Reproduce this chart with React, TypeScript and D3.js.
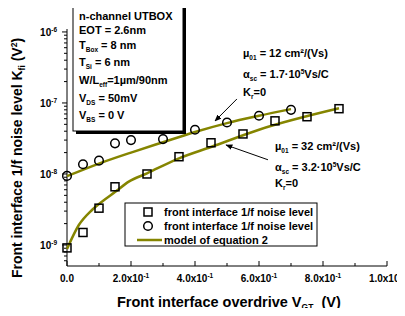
import React from "react";
import * as d3 from "d3";

// measured squares (front interface 1/f noise level, low mobility device)
const sqX = [0, 0.05, 0.1, 0.15, 0.25, 0.35, 0.45, 0.55, 0.65, 0.75, 0.85];
const sqY = [9.1e-10, 1.5e-9, 3.3e-9, 6.6e-9, 1.0e-8, 1.75e-8, 2.75e-8, 3.66e-8, 5.6e-8, 6.4e-8, 8.3e-8];
// measured circles
const ciX = [0, 0.05, 0.1, 0.15, 0.2, 0.3, 0.4, 0.5, 0.6, 0.7];
const ciY = [9.4e-9, 1.37e-8, 1.54e-8, 2.7e-8, 3.0e-8, 3.1e-8, 4.2e-8, 5.3e-8, 6.6e-8, 8.0e-8];
// model of equation 2
const modSqX = [0, 0.037, 0.078, 0.109, 0.151, 0.193, 0.25, 0.35, 0.45, 0.6, 0.85];
const modSqY = [8.8e-10, 1.91e-9, 3.11e-9, 4.07e-9, 5.6e-9, 7.8e-9, 1.02e-8, 1.66e-8, 2.4e-8, 4.2e-8, 8.4e-8];
const modCiX = [0, 0.1, 0.2, 0.3, 0.4, 0.5, 0.6, 0.7];
const modCiY = [9.3e-9, 1.4e-8, 2.0e-8, 2.8e-8, 3.9e-8, 5.2e-8, 6.6e-8, 8.2e-8];

const xTicks = [0, 0.2, 0.4, 0.6, 0.8, 1.0];
const xTickLabels = ["0.0", "2.0x10", "4.0x10", "6.0x10", "8.0x10", "1.0x10"];
const xTickExp = ["", "-1", "-1", "-1", "-1", "0"];
const yDecades = [-9, -8, -7, -6];

const OLIVE = "#858500";
const FONT = "'Liberation Sans', Arial, sans-serif";

export default function App() {
  const x = d3.scaleLinear().domain([0, 1]).range([67, 387]);
  const y = d3.scaleLog().domain([5.06e-10, 1.1e-6]).range([266, 29]);

  const line = d3
    .line<[number, number]>()
    .x((d) => x(d[0]))
    .y((d) => y(d[1]))
    .curve(d3.curveMonotoneX);

  const sqPts = sqX.map((v, i) => [v, sqY[i]] as [number, number]);
  const ciPts = ciX.map((v, i) => [v, ciY[i]] as [number, number]);
  const mSq = modSqX.map((v, i) => [v, modSqY[i]] as [number, number]);
  const mCi = modCiX.map((v, i) => [v, modCiY[i]] as [number, number]);

  const minorX = d3.range(0.1, 1.0, 0.2);
  const minorY: number[] = [];
  for (let e = -10; e <= -6; e++) {
    for (let m = 2; m <= 9; m++) {
      const v = m * Math.pow(10, e);
      if (v >= 5.06e-10 && v <= 1.1e-6) minorY.push(v);
    }
  }

  const arrows = [
    { x1: 0.531, y1: Math.pow(10, -6.944), x2: 0.4625, y2: Math.pow(10, -7.254) },
    { x1: 0.628, y1: Math.pow(10, -7.8), x2: 0.497, y2: Math.pow(10, -7.592) },
  ];

  const inset = [
    { t: "n-channel UTBOX", s: "", r: "" },
    { t: "EOT = 2.6nm", s: "", r: "" },
    { t: "T", s: "Box", r: " = 8 nm" },
    { t: "T", s: "Si", r: " = 6 nm" },
    { t: "W/L", s: "eff", r: "=1µm/90nm" },
    { t: "V", s: "DS", r: " = 50mV" },
    { t: "V", s: "BS", r: " = 0 V" },
  ];
  const insetY = [20, 34, 49, 66, 84, 102, 119];

  return (
    <div style={{ margin: -8 }}>
      <svg width={405} height={316} style={{ display: "block", background: "#fff" }} fontFamily={FONT} fontWeight="bold">
        <defs>
          <marker id="ah" viewBox="0 0 10 10" refX="9" refY="5" markerWidth="7" markerHeight="7" orient="auto">
            <path d="M0,1 L10,5 L0,9 z" fill="#000" />
          </marker>
        </defs>

        {/* axes */}
        <line x1={x(0)} x2={x(0)} y1={y.range()[0]} y2={y.range()[1]} stroke="#000" strokeWidth={1} />
        <line x1={x(0)} x2={x(1)} y1={266} y2={266} stroke="#000" strokeWidth={1} />
        {xTicks.map((t, i) => (
          <g key={"xt" + i}>
            <line x1={x(t)} x2={x(t)} y1={266} y2={261} stroke="#000" />
            <text x={i === xTicks.length - 1 ? x(t) - 1 : x(t)} y={282} fontSize={10} textAnchor="middle">
              {xTickLabels[i]}
              {xTickExp[i] && (
                <tspan dy={-4} fontSize={6.5}>
                  {xTickExp[i]}
                </tspan>
              )}
            </text>
          </g>
        ))}
        {minorX.map((t, i) => (
          <line key={"xm" + i} x1={x(t)} x2={x(t)} y1={266} y2={263} stroke="#000" />
        ))}
        {yDecades.map((e) => (
          <g key={"yt" + e}>
            <line x1={x(0)} x2={x(0) - 5} y1={y(Math.pow(10, e))} y2={y(Math.pow(10, e))} stroke="#000" />
            <text x={57} y={y(Math.pow(10, e)) + 4} fontSize={10} textAnchor="end">
              10
              <tspan dy={-4} fontSize={6.5}>
                {String(e)}
              </tspan>
            </text>
          </g>
        ))}
        {minorY.map((v, i) => (
          <line key={"ym" + i} x1={x(0)} x2={x(0) - 3} y1={y(v)} y2={y(v)} stroke="#000" />
        ))}

        {/* model curves */}
        <path d={line(mSq) || ""} fill="none" stroke={OLIVE} strokeWidth={2.5} />
        <path d={line(mCi) || ""} fill="none" stroke={OLIVE} strokeWidth={2.5} />

        {/* markers */}
        {sqPts.map((d, i) => (
          <rect key={"s" + i} x={x(d[0]) - 4} y={y(d[1]) - 4} width={8} height={8} fill="none" stroke="#000" strokeWidth={1.5} />
        ))}
        {ciPts.map((d, i) => (
          <circle key={"c" + i} cx={x(d[0])} cy={y(d[1])} r={4.3} fill="none" stroke="#000" strokeWidth={1.5} />
        ))}

        {/* arrows */}
        {arrows.map((a, i) => (
          <line key={"a" + i} x1={x(a.x1)} y1={y(a.y1)} x2={x(a.x2)} y2={y(a.y2)} stroke="#000" strokeWidth={1} markerEnd="url(#ah)" />
        ))}

        {/* annotations */}
        <g fontSize={11}>
          <text x={243} y={57}>
            µ<tspan dy={3} fontSize={6.5}>01</tspan>
            <tspan dy={-3}> = 12 cm²/(Vs)</tspan>
          </text>
          <text x={243} y={78}>
            α<tspan dy={3} fontSize={6.5}>sc</tspan>
            <tspan dy={-3}> = 1.7·10</tspan>
            <tspan dy={-4} fontSize={6.5}>5</tspan>
            <tspan dy={4}>Vs/C</tspan>
          </text>
          <text x={243} y={96}>
            K<tspan dy={3} fontSize={6.5}>r</tspan>
            <tspan dy={-3}>=0</tspan>
          </text>
          <text x={275} y={150}>
            µ<tspan dy={3} fontSize={6.5}>01</tspan>
            <tspan dy={-3}> = 32 cm²/(Vs)</tspan>
          </text>
          <text x={275} y={171}>
            α<tspan dy={3} fontSize={6.5}>sc</tspan>
            <tspan dy={-3}> = 3.2·10</tspan>
            <tspan dy={-4} fontSize={6.5}>5</tspan>
            <tspan dy={4}>Vs/C</tspan>
          </text>
          <text x={275} y={187}>
            K<tspan dy={3} fontSize={6.5}>r</tspan>
            <tspan dy={-3}>=0</tspan>
          </text>
        </g>

        {/* inset box */}
        <rect x={76} y={8} width={110} height={126} fill="#000" />
        <rect x={73} y={5} width={110} height={126} fill="#fff" stroke="#000" strokeWidth={1} />
        <g fontSize={11}>
          {inset.map((l, i) => (
            <text key={"in" + i} x={79} y={insetY[i]}>
              {l.t}
              {l.s && (
                <tspan dy={3} fontSize={6.5}>
                  {l.s}
                </tspan>
              )}
              {l.s && <tspan dy={-3}>{l.r}</tspan>}
            </text>
          ))}
        </g>

        {/* legend */}
        <rect x={125} y={203} width={192} height={43} fill="#fff" stroke="#000" strokeWidth={1} />
        <rect x={144} y={208} width={8} height={8} fill="none" stroke="#000" strokeWidth={1.5} />
        <circle cx={148} cy={226} r={4.3} fill="none" stroke="#000" strokeWidth={1.5} />
        <line x1={137} x2={162} y1={240} y2={240} stroke={OLIVE} strokeWidth={2.5} />
        <g fontSize={11}>
          <text x={164} y={216}>front interface 1/f noise level</text>
          <text x={164} y={230}>front interface 1/f noise level</text>
          <text x={164} y={244}>model of equation 2</text>
        </g>

        {/* axis titles */}
        <text x={117} y={307} fontSize={14.5}>
          Front interface overdrive V<tspan dy={3} fontSize={8.5}>GT</tspan>
          <tspan dy={-3}>{"\u00a0\u00a0(V)"}</tspan>
        </text>
        <text transform="translate(22,158) rotate(-90)" fontSize={14} textAnchor="middle">
          Front interface 1/f noise level K<tspan dy={3} fontSize={8.5}>fi</tspan>
          <tspan dy={-3}>{" (V"}</tspan>
          <tspan dy={-5} fontSize={8.5}>2</tspan>
          <tspan dy={5}>)</tspan>
        </text>
      </svg>
    </div>
  );
}
